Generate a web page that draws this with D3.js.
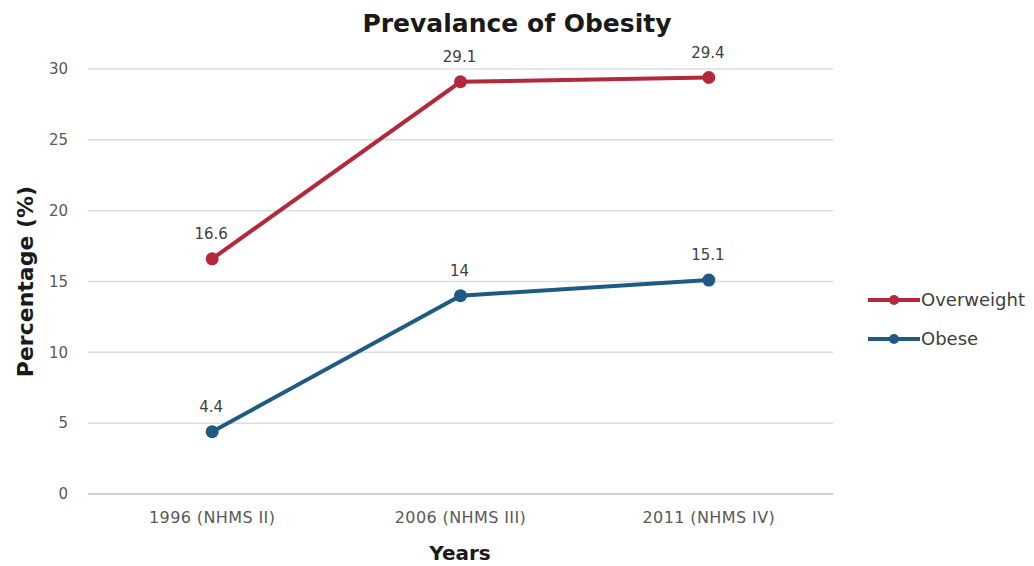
<!DOCTYPE html>
<html>
<head>
<meta charset="utf-8">
<script src="https://cdn.jsdelivr.net/npm/d3@7"></script>
<style>
  body { margin: 0; background: #fff; }
  svg text { font-family: "DejaVu Sans", sans-serif; }
</style>
</head>
<body>
<svg id="chart" width="1034" height="566"></svg>
<script>
// Survey rounds and prevalence values (%)
const categories = ["1996 (NHMS II)", "2006 (NHMS III)", "2011 (NHMS IV)"];
const overweight = [16.6, 29.1, 29.4];
const obese = [4.4, 14, 15.1];
const yTicks = [0, 5, 10, 15, 20, 25, 30];

const series = [
  { name: "Overweight", values: overweight, color: "#B3283A" },
  { name: "Obese", values: obese, color: "#1F5A85" }
];

const FONT = "'DejaVu Sans', sans-serif";
const svg = d3.select("#chart");
const margin = { left: 88, right: 201, top: 69, bottom: 72 };
const W = 1034, H = 566;

const x = d3.scaleBand().domain(categories).range([margin.left, W - margin.right]);
const y = d3.scaleLinear().domain([0, 30]).range([H - margin.bottom, margin.top]);

// Horizontal gridlines
svg.append("g")
  .selectAll("line")
  .data(yTicks)
  .join("line")
  .attr("x1", margin.left)
  .attr("x2", W - margin.right)
  .attr("y1", d => y(d))
  .attr("y2", d => y(d))
  .attr("stroke", d => d === 0 ? "#d0d0d0" : "#dcdcdc")
  .attr("stroke-width", d => d === 0 ? 2 : 1.5);

// Y axis tick labels
const yAxis = d3.axisLeft(y).tickValues(yTicks).tickSize(0).tickPadding(20);
const gy = svg.append("g").attr("transform", `translate(${margin.left},0)`).call(yAxis);
gy.select(".domain").remove();
gy.selectAll("text").attr("font-size", 15).attr("fill", "#595959")
  .style("font-family", FONT);

// X axis tick labels
const xAxis = d3.axisBottom(x).tickSize(0).tickPadding(18);
const gx = svg.append("g").attr("transform", `translate(0,${y(0)})`).call(xAxis);
gx.select(".domain").remove();
gx.selectAll("text").attr("font-size", 16).attr("fill", "#595959")
  .attr("letter-spacing", 0.4)
  .style("font-family", FONT);

const cx = d => x(d) + x.bandwidth() / 2;

// Lines, markers and value labels
const line = d3.line().x((d, i) => cx(categories[i])).y(d => y(d));
series.forEach(s => {
  svg.append("path")
    .datum(s.values)
    .attr("d", line)
    .attr("fill", "none")
    .attr("stroke", s.color)
    .attr("stroke-width", 4);
  svg.append("g").selectAll("circle")
    .data(s.values)
    .join("circle")
    .attr("cx", (d, i) => cx(categories[i]))
    .attr("cy", d => y(d))
    .attr("r", 6.5)
    .attr("fill", s.color);
  svg.append("g").selectAll("text")
    .data(s.values)
    .join("text")
    .attr("x", (d, i) => cx(categories[i]) - 1)
    .attr("y", d => y(d) - 20)
    .attr("text-anchor", "middle")
    .attr("font-size", 15)
    .attr("fill", "#404040")
    .text(d => d);
});

// Title
svg.append("text")
  .attr("x", 517).attr("y", 32)
  .attr("text-anchor", "middle")
  .attr("font-size", 25).attr("font-weight", "bold")
  .attr("fill", "#1a1a1a")
  .text("Prevalance of Obesity");

// Axis titles
svg.append("text")
  .attr("x", 460).attr("y", 560)
  .attr("text-anchor", "middle")
  .attr("font-size", 20).attr("font-weight", "bold")
  .attr("fill", "#1a1a1a")
  .text("Years");

svg.append("text")
  .attr("transform", `translate(33,${(y(0) + y(30)) / 2}) rotate(-90)`)
  .attr("text-anchor", "middle")
  .attr("font-size", 22).attr("font-weight", "bold")
  .attr("fill", "#1a1a1a")
  .text("Percentage (%)");

// Legend
const legend = svg.append("g").selectAll("g")
  .data(series)
  .join("g")
  .attr("transform", (d, i) => `translate(868,${300 + i * 39})`);
legend.append("line")
  .attr("x1", 0).attr("x2", 52)
  .attr("stroke", d => d.color).attr("stroke-width", 4);
legend.append("circle")
  .attr("cx", 26).attr("r", 5)
  .attr("fill", d => d.color);
legend.append("text")
  .attr("x", 53).attr("y", 6)
  .attr("font-size", 18)
  .attr("fill", "#404040")
  .text(d => d.name);
</script>
</body>
</html>
